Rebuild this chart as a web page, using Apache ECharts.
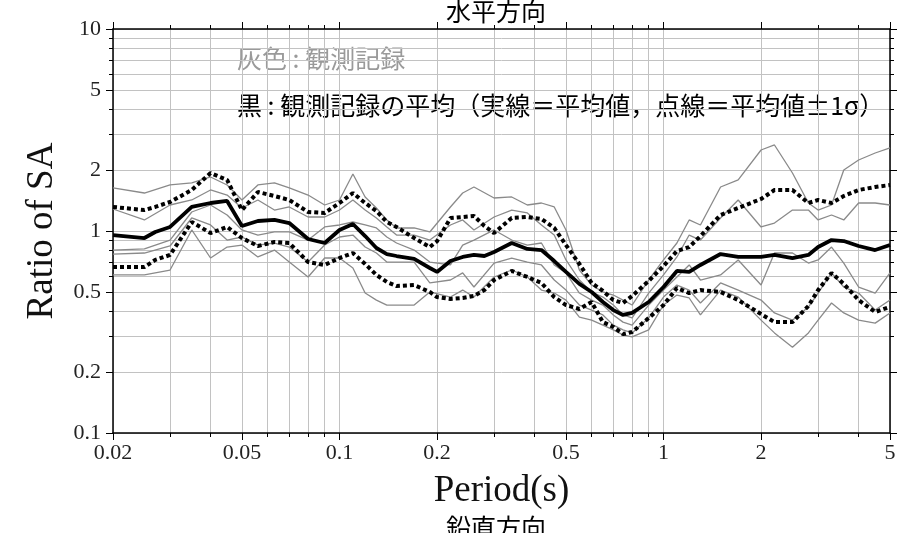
<!DOCTYPE html>
<html><head><meta charset="utf-8">
<script src="https://cdn.jsdelivr.net/npm/echarts@6/dist/echarts.min.js"></script>
<style>html,body{margin:0;padding:0;background:#fff}#c{width:899px;height:533px}</style>
</head><body><div id="c"></div>
<script>
// Periods (s) for the mean / ±1σ curves
const periodsStat = [0.02,0.025,0.027,0.03,0.035,0.04,0.045,0.05,0.056,0.063,0.07,0.08,0.09,0.1,0.11,0.12,0.13,0.14,0.15,0.17,0.19,0.2,0.22,0.24,0.26,0.28,0.3,0.34,0.38,0.42,0.46,0.5,0.55,0.6,0.65,0.7,0.75,0.8,0.9,1.0,1.1,1.2,1.3,1.5,1.7,2.0,2.2,2.5,2.8,3.0,3.3,3.6,4.0,4.5,5.0];
const meanVals = [0.955,0.923,0.989,1.047,1.315,1.376,1.408,1.059,1.121,1.134,1.095,0.913,0.872,1.012,1.083,0.944,0.824,0.769,0.752,0.727,0.656,0.627,0.710,0.744,0.761,0.752,0.787,0.872,0.815,0.805,0.710,0.627,0.547,0.499,0.445,0.406,0.384,0.393,0.445,0.528,0.634,0.627,0.679,0.769,0.744,0.744,0.761,0.735,0.761,0.833,0.902,0.892,0.843,0.805,0.852];
const plusSigma = [1.315,1.270,1.315,1.392,1.596,1.937,1.789,1.270,1.560,1.490,1.424,1.242,1.228,1.376,1.542,1.376,1.256,1.108,1.047,0.923,0.833,0.890,1.160,1.173,1.187,1.059,0.977,1.160,1.173,1.147,1.035,0.852,0.687,0.553,0.505,0.455,0.440,0.477,0.566,0.671,0.796,0.833,0.944,1.200,1.300,1.440,1.596,1.596,1.376,1.424,1.376,1.490,1.596,1.651,1.689];
const minusSigma = [0.663,0.663,0.719,0.761,1.108,0.977,1.047,0.923,0.843,0.882,0.872,0.702,0.679,0.735,0.778,0.687,0.606,0.559,0.534,0.540,0.499,0.471,0.461,0.466,0.477,0.510,0.572,0.634,0.592,0.553,0.471,0.430,0.411,0.445,0.354,0.335,0.309,0.316,0.371,0.430,0.522,0.493,0.510,0.499,0.455,0.388,0.354,0.354,0.425,0.510,0.620,0.547,0.455,0.397,0.421];

// Periods (s) for the observed records (gray)
const periodsObs = [0.02,0.025,0.03,0.035,0.04,0.045,0.05,0.056,0.063,0.07,0.08,0.09,0.1,0.11,0.12,0.13,0.14,0.15,0.17,0.19,0.22,0.24,0.26,0.3,0.34,0.38,0.42,0.46,0.5,0.55,0.6,0.65,0.7,0.75,0.8,0.9,1.0,1.1,1.2,1.3,1.5,1.7,2.0,2.2,2.5,2.8,3.0,3.3,3.6,4.0,4.5,5.0];
const obs1 = [1.633,1.542,1.690,1.729,1.851,1.690,1.424,1.690,1.729,1.633,1.507,1.345,1.424,1.915,1.474,1.300,1.134,1.035,1.035,0.989,1.315,1.542,1.651,1.457,1.474,1.345,1.376,1.315,1.012,0.641,0.540,0.499,0.482,0.455,0.430,0.572,0.719,0.872,1.134,1.071,1.651,1.789,2.518,2.666,1.937,1.376,1.270,1.345,2.004,2.246,2.433,2.576];
const obs2 = [1.285,1.134,1.345,1.424,1.596,1.507,1.300,1.424,1.270,1.315,1.173,1.173,1.270,1.424,1.270,1.160,1.047,0.955,0.955,0.902,1.071,1.134,1.012,1.173,1.270,1.228,1.071,0.955,0.719,0.572,0.499,0.471,0.430,0.384,0.371,0.493,0.606,0.744,0.955,0.902,1.160,1.424,1.047,1.095,1.270,1.270,1.134,1.200,1.134,1.376,1.376,1.345];
const obs3 = [0.805,0.815,0.902,1.242,1.345,1.200,1.012,0.955,0.989,0.989,0.902,1.047,1.071,1.108,1.071,1.035,0.934,0.872,0.805,0.702,0.679,0.852,0.902,1.012,0.902,0.852,0.872,0.679,0.620,0.493,0.455,0.430,0.384,0.354,0.342,0.430,0.510,0.592,0.679,0.572,0.606,0.719,0.540,0.778,0.778,0.694,0.719,0.833,0.694,0.528,0.493,0.620];
const obs4 = [0.769,0.778,0.843,1.160,1.071,0.902,0.934,0.852,0.872,0.833,0.702,0.852,0.934,0.955,0.833,0.778,0.702,0.702,0.702,0.553,0.572,0.620,0.528,0.694,0.735,0.702,0.679,0.572,0.510,0.430,0.406,0.384,0.342,0.324,0.313,0.371,0.471,0.540,0.510,0.440,0.553,0.510,0.455,0.393,0.362,0.420,0.493,0.620,0.528,0.493,0.406,0.455];
const obs5 = [0.606,0.606,0.641,1.012,0.735,0.833,0.852,0.744,0.805,0.702,0.592,0.735,0.735,0.656,0.493,0.455,0.430,0.430,0.430,0.499,0.471,0.510,0.471,0.592,0.641,0.592,0.510,0.493,0.455,0.375,0.362,0.342,0.324,0.306,0.299,0.324,0.430,0.482,0.466,0.384,0.510,0.471,0.362,0.313,0.266,0.313,0.362,0.440,0.393,0.362,0.350,0.393];

// Tick values
const xMajorTicks = [0.02,0.05,0.1,0.2,0.5,1,2,5];
const xMinorTicks = [0.02,0.03,0.04,0.05,0.06,0.07,0.08,0.09,0.1,0.2,0.3,0.4,0.5,0.6,0.7,0.8,0.9,1,2,3,4,5];
const yMajorTicks = [0.1,0.2,0.5,1,2,5,10];
const yMinorTicks = [0.1,0.2,0.3,0.4,0.5,0.6,0.7,0.8,0.9,1,2,3,4,5,6,7,8,9,10];

const titleTop = '水平方向';
const titleBottom = '鉛直方向';
const noteGray = '灰色 : 観測記録';
const noteBlack = '黒 : 観測記録の平均（実線＝平均値，点線＝平均値±1σ）';
const xName = 'Period(s)';
const yName = 'Ratio of SA';

const serif = '"Liberation Serif","DejaVu Serif",serif';
const cjk = '"Noto Sans CJK JP","Noto Sans",sans-serif';
const gridColor = '#c2c2c2';
const fmt = v => String(+(+v).toPrecision(3));

function pair(xs, ys){ return xs.map((x,i)=>[x, ys[i]]); }

function xAx(pos, ticks, len, opts){
  return Object.assign({
    type:'log', logBase:10, min:0.02, max:5, position:pos,
    axisLine:{show:false, onZero:false},
    axisTick:{show:true, customValues:ticks, length:len, inside:false, lineStyle:{color:'#000', width:1}},
    axisLabel:{show:false},
    splitLine:{show:false}
  }, opts||{});
}
function yAx(pos, ticks, len, opts){
  return Object.assign({
    type:'log', logBase:10, min:0.1, max:10, position:pos,
    axisLine:{show:false, onZero:false},
    axisTick:{show:true, customValues:ticks, length:len, inside:false, lineStyle:{color:'#000', width:1}},
    axisLabel:{show:false},
    splitLine:{show:false}
  }, opts||{});
}

const chart = echarts.init(document.getElementById('c'), null, {renderer:'canvas'});
const grayLine = {color:'#8a8a8a', width:1.3};
const dotted = {color:'#000', width:4, type:[4,3], cap:'butt'};
const obsSeries = [obs1,obs2,obs3,obs4,obs5].map((o,k)=>({
  name:'観測記録'+(k+1), type:'line', data:pair(periodsObs,o), showSymbol:false, symbol:'none',
  lineStyle:grayLine, z:2, silent:true, xAxisIndex:0, yAxisIndex:0
}));

chart.setOption({
  animation:false,
  backgroundColor:'#fff',
  title:[
    {text:titleTop, left:441, top:-6, textStyle:{fontFamily:cjk, fontSize:25, fontWeight:'normal', color:'#000'}},
    {text:titleBottom, left:441, top:510, textStyle:{fontFamily:cjk, fontSize:25, fontWeight:'normal', color:'#000'}}
  ],
  grid:{left:113, right:9, top:29, bottom:100, containLabel:false, outerBoundsMode:'none'},
  xAxis:[
    xAx('bottom', xMajorTicks, 7, {
      axisLine:{show:true, onZero:false, lineStyle:{color:'#000', width:1.5}},
      axisLabel:{show:true, customValues:xMajorTicks, formatter:fmt, fontFamily:serif, fontSize:22, color:'#222', margin:9},
      name:xName, nameLocation:'middle', nameGap:40,
      nameTextStyle:{fontFamily:serif, fontSize:37, color:'#111'}
    }),
    xAx('bottom', xMinorTicks, 4, {splitLine:{show:true, lineStyle:{color:gridColor, width:1}}}),
    xAx('top', xMajorTicks, 7, {axisLine:{show:true, onZero:false, lineStyle:{color:'#000', width:1.5}}}),
    xAx('top', xMinorTicks, 4)
  ],
  yAxis:[
    yAx('left', yMajorTicks, 7, {
      axisLine:{show:true, onZero:false, lineStyle:{color:'#000', width:1.5}},
      axisLabel:{show:true, customValues:yMajorTicks, formatter:fmt, fontFamily:serif, fontSize:22, color:'#222', margin:12},
      name:yName, nameLocation:'middle', nameGap:52, nameRotate:90,
      nameTextStyle:{fontFamily:serif, fontSize:37, color:'#111'}
    }),
    yAx('left', yMinorTicks, 4, {splitLine:{show:true, lineStyle:{color:gridColor, width:1}}}),
    yAx('right', yMajorTicks, 7, {axisLine:{show:true, onZero:false, lineStyle:{color:'#000', width:1.5}}}),
    yAx('right', yMinorTicks, 4)
  ],
  graphic:[
    {type:'text', left:237, top:46, silent:true, style:{text:noteGray, fontFamily:cjk, fontSize:25, fill:'#9a9a9a'}},
    {type:'text', left:237, top:93, silent:true, style:{text:noteBlack, fontFamily:cjk, fontSize:25, fill:'#000'}}
  ],
  series: obsSeries.concat([
    {name:'平均値+1σ', type:'line', data:pair(periodsStat,plusSigma), showSymbol:false, symbol:'none',
     lineStyle:dotted, z:3, silent:true},
    {name:'平均値-1σ', type:'line', data:pair(periodsStat,minusSigma), showSymbol:false, symbol:'none',
     lineStyle:dotted, z:3, silent:true},
    {name:'平均値', type:'line', data:pair(periodsStat,meanVals), showSymbol:false, symbol:'none',
     lineStyle:{color:'#000', width:3.8}, z:4, silent:true}
  ])
});
</script>
</body></html>
